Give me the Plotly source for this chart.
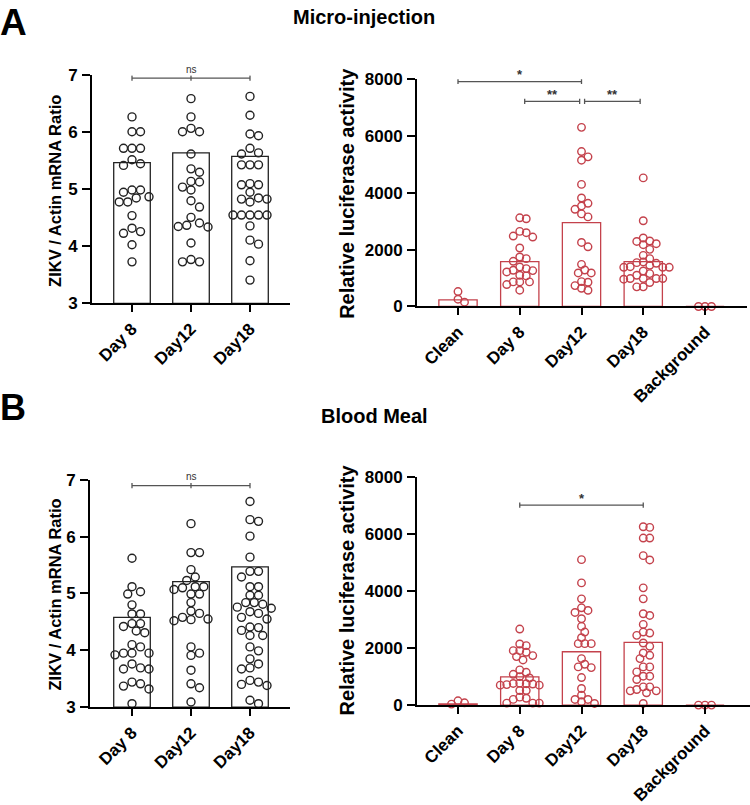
import plotly.graph_objects as go

# ---------------- data ----------------
cats_ratio = ["Day 8", "Day12", "Day18"]
cats_luc = ["Clean", "Day 8", "Day12", "Day18", "Background"]

# Panel A (Micro-injection) - ZIKV / Actin mRNA ratio
a_ratio_day8 = [6.27, 6.01, 6.01, 5.72, 5.72, 5.72, 5.52, 5.45, 5.42, 4.99, 4.95, 4.99,
                4.87, 4.85, 4.78, 4.78, 4.54, 4.32, 4.26, 4.23, 4.03, 3.73]
a_ratio_day12 = [6.59, 6.27, 6.07, 6.01, 6.01, 5.62, 5.36, 5.30, 5.14, 5.13, 5.04, 4.99,
                 4.80, 4.69, 4.51, 4.41, 4.37, 4.35, 4.34, 4.06, 3.77, 3.73, 3.73]
a_ratio_day18 = [6.63, 6.30, 5.94, 5.97, 5.72, 5.64, 5.62, 5.43, 5.43, 5.43, 5.10, 5.08,
                 5.08, 4.95, 4.78, 4.83, 4.85, 4.83, 4.55, 4.55, 4.55, 4.55, 4.55, 4.36,
                 4.11, 4.04, 3.75, 3.41]
a_ratio_bars = [5.47, 5.64, 5.58]

# Panel A - relative luciferase activity
a_luc_clean = [526, 152, 257]
a_luc_day8 = [3123, 3088, 2643, 2445, 2480, 2597, 2059, 1743, 1684, 1590, 1392, 1263,
              1275, 1333, 1216, 1076, 1100, 866, 866, 772, 866, 573]
a_luc_day12 = [6307, 5268, 5455, 5151, 4298, 3632, 3819, 3539, 3259, 3422, 3154, 2102,
               2254, 1483, 1180, 1285, 1180, 853, 876, 572, 642, 736]
a_luc_day18 = [4527, 3018, 2411, 2210, 2290, 2305, 2176, 2011, 1800, 1684, 1568, 1544,
               1450, 1380, 1380, 1380, 1400, 1158, 1099, 983, 983, 983, 983, 960, 842,
               691, 691, 1520, 1250]
a_luc_background = [0, 0, 0]
a_luc_bars = [234, 1577, 2955, 1577, 0]

# Panel B (Blood Meal) - ZIKV / Actin mRNA ratio
b_ratio_day8 = [5.62, 5.03, 5.12, 4.99, 4.80, 4.64, 4.64, 4.47, 4.47, 4.42, 4.31, 4.34,
                4.10, 3.95, 3.95, 3.95, 4.06, 3.92, 3.76, 3.69, 3.67, 3.67, 3.44, 3.37,
                3.41, 3.32, 3.06]
b_ratio_day12 = [6.23, 5.72, 5.72, 5.42, 5.29, 5.23, 5.10, 5.12, 5.12, 5.07, 4.99, 4.99,
                 4.84, 4.69, 4.65, 4.54, 4.55, 4.52, 4.58, 4.06, 3.91, 3.95, 3.65, 3.41,
                 3.34, 3.09]
b_ratio_day18 = [6.62, 6.27, 6.30, 6.01, 5.64, 5.39, 5.39, 5.29, 5.12, 5.12, 4.97, 4.97,
                 4.84, 4.84, 4.81, 4.74, 4.76, 4.68, 4.65, 4.58, 4.55, 4.41, 4.40, 4.35,
                 4.26, 4.26, 4.06, 3.99, 3.85, 3.76, 3.67, 3.69, 3.47, 3.44, 3.40, 3.38,
                 3.12, 3.06]
b_ratio_bars = [4.58, 5.21, 5.47]

# Panel B - relative luciferase activity
b_luc_clean = [35, 151, 82]
b_luc_day8 = [2666, 2085, 2142, 1910, 1910, 1852, 1735, 1700, 1583, 1234, 1150, 1080,
              1000, 950, 760, 700, 740, 770, 720, 750, 700, 513, 513, 280, 240, 200,
              70, 70, 70]
b_luc_day12 = [5100, 4285, 3726, 3319, 3412, 3249, 3028, 2760, 2562, 2364, 2154, 2154,
               2154, 1630, 1432, 1339, 1316, 966, 582, 349, 198, 198, 116, 58]
b_luc_day18 = [6230, 6253, 5857, 5857, 5240, 5089, 4111, 3726, 3202, 3144, 2830, 2445,
               2562, 2527, 2177, 2061, 1828, 1747, 1630, 1339, 1339, 1165, 1013, 1013,
               897, 500, 640, 500, 640, 547, 431, 58]
b_luc_background = [0, 0, 0]
b_luc_bars = [40, 990, 1870, 2200, 0]

# ---------------- layout helpers ----------------
W, H = 750, 805
RED = "#C4424C"
BLACK = "#222222"
FONT = "Liberation Sans"
VSCALE, VOFF = 0.976, 9.5   # compensation for vertical placement in the captured page


def px_x(p):
    return p / W


def py_page(r):
    """reference-picture y (px) -> page y (px)"""
    return (r - VOFF) / VSCALE


def px_y(r):
    return 1 - py_page(r) / H


def swarm(values, py_per_unit, diam_px, step_px):
    """Greedy beeswarm in pixel space; returns horizontal offsets in pixels."""
    order = sorted(range(len(values)), key=lambda i: -values[i])
    placed = []
    offs = [0.0] * len(values)
    cands = [0.0]
    for k in range(1, 80):
        cands += [k * step_px, -k * step_px]
    for i in order:
        y = values[i] * py_per_unit
        for c in cands:
            if all((c - px) ** 2 + (y - pyy) ** 2 >= diam_px ** 2 for px, pyy in placed):
                offs[i] = c
                placed.append((c, y))
                break
    return offs


fig = go.Figure()

panels = [
    dict(ax="", x0=92, x1=290, ytop=76, ybot=305, cats=cats_ratio,
         groups=[a_ratio_day8, a_ratio_day12, a_ratio_day18], bars=a_ratio_bars,
         color=BLACK, yr=[3, 7], dtick=1, cat_px=59, first_px=132),
    dict(ax="2", x0=417, x1=747, ytop=80, ybot=308, cats=cats_luc,
         groups=[a_luc_clean, a_luc_day8, a_luc_day12, a_luc_day18, a_luc_background],
         bars=a_luc_bars, color=RED, yr=[0, 8000], dtick=2000, cat_px=61.75, first_px=458),
    dict(ax="3", x0=90, x1=290, ytop=482, ybot=710, cats=cats_ratio,
         groups=[b_ratio_day8, b_ratio_day12, b_ratio_day18], bars=b_ratio_bars,
         color=BLACK, yr=[3, 7], dtick=1, cat_px=59, first_px=132),
    dict(ax="4", x0=417, x1=750, ytop=479, ybot=708, cats=cats_luc,
         groups=[b_luc_clean, b_luc_day8, b_luc_day12, b_luc_day18, b_luc_background],
         bars=b_luc_bars, color=RED, yr=[0, 8000], dtick=2000, cat_px=61.75, first_px=458),
]

layout_axes = {}
for p in panels:
    n = len(p["cats"])
    xr = [(p["x0"] - p["first_px"]) / p["cat_px"], (p["x1"] - p["first_px"]) / p["cat_px"]]
    py_per_unit = (p["ybot"] - p["ytop"]) / (p["yr"][1] - p["yr"][0])
    xa = "x" + p["ax"]
    ya = "y" + p["ax"]
    base = p["yr"][0]
    fig.add_trace(go.Bar(
        x=list(range(n)), y=[b - base for b in p["bars"]], base=base, width=0.62,
        xaxis=xa, yaxis=ya,
        marker=dict(color="rgba(255,255,255,0)", line=dict(color=p["color"], width=1.3)),
        hoverinfo="skip",
    ))
    if p["color"] == BLACK:
        diam, step, msize = 8.5, 4.25, 8
    else:
        diam, step, msize = 6.5, 3.25, 7.5
    for i, g in enumerate(p["groups"]):
        offs = swarm(g, py_per_unit, diam, step)
        fig.add_trace(go.Scatter(
            x=[i + o / p["cat_px"] for o in offs], y=g, mode="markers",
            xaxis=xa, yaxis=ya, cliponaxis=False,
            marker=dict(symbol="circle-open", size=msize,
                        color=p["color"], line=dict(width=1.4, color=p["color"])),
        ))
    key = p["ax"]
    layout_axes["xaxis" + key] = dict(
        domain=[px_x(p["x0"]), px_x(p["x1"])], range=xr, anchor=ya,
        tickmode="array", tickvals=list(range(n)), ticktext=p["cats"], tickangle=-45,
        showline=True, linecolor="black", linewidth=2, ticks="outside", ticklen=7,
        tickwidth=2, tickcolor="black", showgrid=False, zeroline=False,
        tickfont=dict(family=FONT, size=17, color="black", weight="bold"),
    )
    layout_axes["yaxis" + key] = dict(
        domain=[px_y(p["ybot"]), px_y(p["ytop"])], range=p["yr"], anchor=xa,
        tick0=p["yr"][0], dtick=p["dtick"],
        showline=True, linecolor="black", linewidth=2, ticks="outside", ticklen=8,
        tickwidth=2, tickcolor="black", showgrid=False, zeroline=False,
        tickfont=dict(family=FONT, size=17, color="black", weight="bold"),
        ticklabelstandoff=1,
    )

fig.update_layout(**layout_axes)

shapes = []
annotations = []


def bracket(ax, xa_, xb_, y, tick, label, mid=None, label_size=10, label_dy=10, bold=False):
    xr, yr = "x" + ax, "y" + ax
    col = "#555555"
    shapes.append(dict(type="line", xref=xr, yref=yr, x0=xa_, x1=xb_, y0=y, y1=y,
                       line=dict(color=col, width=1.3)))
    for xx in [xa_, xb_] + ([mid] if mid is not None else []):
        shapes.append(dict(type="line", xref=xr, yref=yr, x0=xx, x1=xx, y0=y - tick, y1=y + tick,
                           line=dict(color=col, width=1.3)))
    annotations.append(dict(x=(xa_ + xb_) / 2, y=y, xref=xr, yref=yr, text=label,
                            showarrow=False, yshift=label_dy,
                            font=dict(family=FONT, size=label_size, color="#333333",
                                      weight="bold" if bold else "normal")))


bracket("", 0, 2, 6.95, 0.045, "ns", mid=1, label_size=10, label_dy=9)
bracket("2", 0, 2, 7920, 90, "*", label_size=13, label_dy=7, bold=True)
bracket("2", 1.08, 1.97, 7220, 90, "**", label_size=13, label_dy=7, bold=True)
bracket("2", 2.05, 2.95, 7220, 90, "**", label_size=13, label_dy=7, bold=True)
bracket("3", 0, 2, 6.90, 0.045, "ns", mid=1, label_size=10, label_dy=9)
bracket("4", 1, 3, 7010, 90, "*", label_size=13, label_dy=7, bold=True)

for (x, y, txt, size) in [(55, 192, "ZIKV / Actin mRNA Ratio", 16.5),
                          (347, 195, "Relative luciferase activity", 20),
                          (55, 597, "ZIKV / Actin mRNA Ratio", 16.5),
                          (347, 593, "Relative luciferase activity", 20)]:
    annotations.append(dict(x=px_x(x), y=px_y(y), xref="paper", yref="paper", text=txt,
                            textangle=-90, showarrow=False, xanchor="center", yanchor="middle",
                            font=dict(family=FONT, size=size, color="black", weight="bold")))

annotations += [
    dict(x=px_x(-2), y=1 - 14 / H, xref="paper", yref="paper", text="A", showarrow=False,
         xanchor="left", yanchor="middle", font=dict(family=FONT, size=37, color="black", weight="bold")),
    dict(x=px_x(-2), y=px_y(409), xref="paper", yref="paper", text="B", showarrow=False,
         xanchor="left", yanchor="middle", font=dict(family=FONT, size=36, color="black", weight="bold")),
    dict(x=px_x(364), y=px_y(18), xref="paper", yref="paper", text="Micro-injection", showarrow=False,
         xanchor="center", yanchor="middle", font=dict(family=FONT, size=20, color="black", weight="bold")),
    dict(x=px_x(374), y=px_y(418), xref="paper", yref="paper", text="Blood Meal", showarrow=False,
         xanchor="center", yanchor="middle", font=dict(family=FONT, size=20, color="black", weight="bold")),
]

fig.update_layout(
    width=W, height=H, margin=dict(l=0, r=0, t=0, b=0),
    paper_bgcolor="white", plot_bgcolor="white", showlegend=False,
    shapes=shapes, annotations=annotations, barmode="overlay",
)

fig.write_html(
    "out.html",
    config={"displayModeBar": False},
    post_script=(
        "document.documentElement.style.margin='0';"
        "document.documentElement.style.overflow='hidden';"
        "document.body.style.margin='0';"
        "document.body.style.overflow='hidden';"
        "var gd=document.getElementById('{plot_id}');"
        "gd.style.position='fixed';gd.style.left='0px';gd.style.top='0px';"
    ),
)
